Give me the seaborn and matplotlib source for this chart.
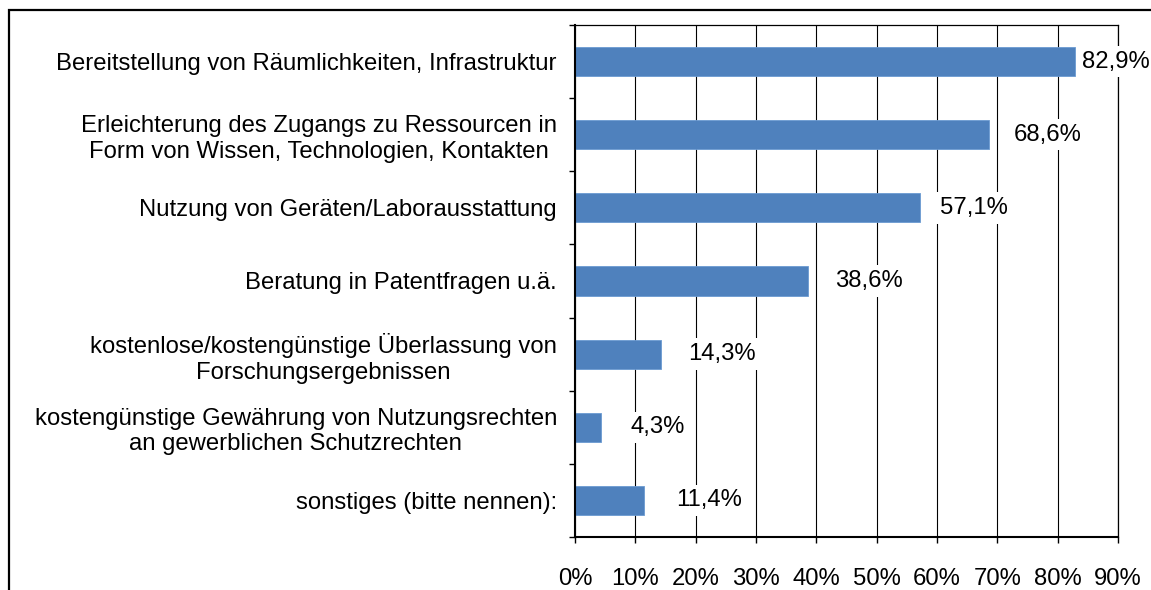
import matplotlib
matplotlib.use("Agg")
import matplotlib.pyplot as plt
import seaborn as sns
import pandas as pd
from matplotlib.patches import Rectangle
from matplotlib.ticker import FixedLocator

# data
categories = [
    "Bereitstellung von Räumlichkeiten, Infrastruktur",
    "Erleichterung des Zugangs zu Ressourcen in\nForm von Wissen, Technologien, Kontakten",
    "Nutzung von Geräten/Laborausstattung",
    "Beratung in Patentfragen u.ä.",
    "kostenlose/kostengünstige Überlassung von\nForschungsergebnissen",
    "kostengünstige Gewährung von Nutzungsrechten\nan gewerblichen Schutzrechten",
    "sonstiges (bitte nennen):",
]
values = [82.9, 68.6, 57.1, 38.6, 14.3, 4.3, 11.4]
x_ticks = [0, 10, 20, 30, 40, 50, 60, 70, 80, 90]

# gap (px) between bar end and value label, as placed in the original
label_gap = [7, 25, 20, 27, 27, 30, 32]

FS = 17.2

df = pd.DataFrame({"item": categories, "share": values})

sns.set_style("white")
plt.rcParams["font.family"] = ["Liberation Sans", "DejaVu Sans"]
plt.rcParams["text.color"] = "black"
plt.rcParams["xtick.labelcolor"] = "black"
plt.rcParams["ytick.labelcolor"] = "black"

fig = plt.figure(figsize=(11.51, 5.90), dpi=100)
ax = fig.add_axes([575 / 1151, 1 - 537 / 590, (1118 - 575) / 1151, (537 - 25) / 590])

sns.barplot(data=df, x="share", y="item", orient="h", color="#4F81BD",
            width=0.4, edgecolor="#6B9AD2", linewidth=0.6, saturation=1, ax=ax)

ax.set_xlim(0, 90)
ax.set_ylim(len(categories) - 0.5, -0.5)
ax.set_xticks(x_ticks)
ax.set_xticklabels([f"{t}%" for t in x_ticks], fontsize=FS)
ax.yaxis.set_minor_locator(FixedLocator([i - 0.5 for i in range(len(categories) + 1)]))
ax.tick_params(axis="y", which="major", length=0, pad=13, labelsize=FS, labelcolor="black")
ax.tick_params(axis="y", which="minor", length=4.5, width=1, color="black", left=True)
ax.tick_params(axis="x", length=4.5, width=1, color="black", pad=18, bottom=True,
               labelcolor="black")
for lab in ax.get_yticklabels():
    lab.set_multialignment("center")
    lab.set_linespacing(1.2)
ax.set_xlabel("")
ax.set_ylabel("")

ax.grid(axis="x", color="black", linewidth=0.8)
ax.set_axisbelow(True)
for side in ["left", "bottom"]:
    ax.spines[side].set_color("black")
    ax.spines[side].set_linewidth(1.5)
for side in ["top", "right"]:
    ax.spines[side].set_color("black")
    ax.spines[side].set_linewidth(0.9)

for i, (v, gap) in enumerate(zip(values, label_gap)):
    ax.annotate(f"{v:.1f}%".replace(".", ","), xy=(v, i), xytext=(gap * 0.72, 0),
                textcoords="offset points", ha="left", va="center", fontsize=FS,
                color="black",
                bbox=dict(boxstyle="square,pad=0.2", fc="white", ec="none"),
                zorder=5)

# outer chart frame (runs off the right and bottom edges)
fig.patches.append(Rectangle((9 / 1151, -0.2), 1.2, 1 - 10 / 590 + 0.2,
                             transform=fig.transFigure, fill=False,
                             ec="black", lw=1.6))

fig.savefig("out.png", dpi=100)
